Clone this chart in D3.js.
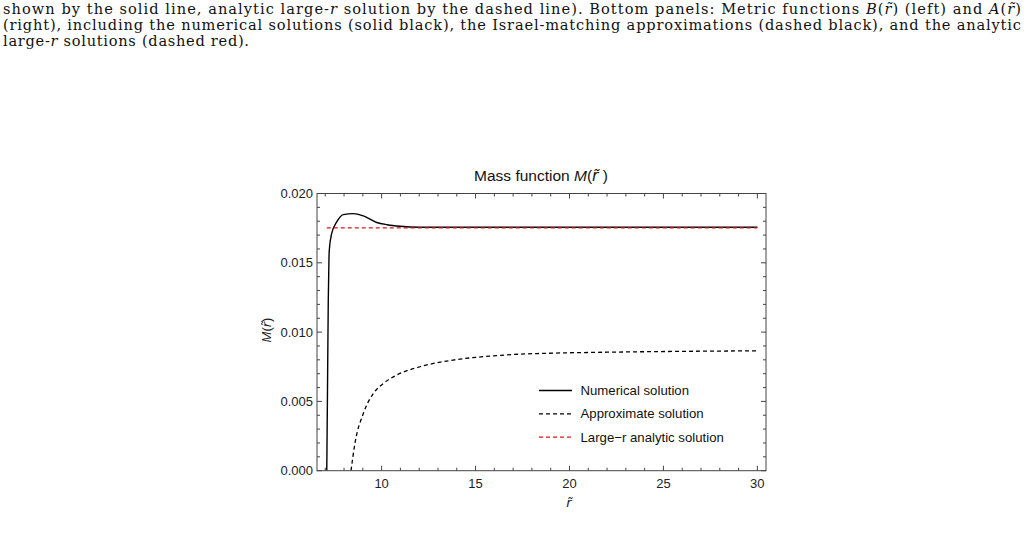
<!DOCTYPE html>
<html>
<head>
<meta charset="utf-8">
<script src="https://cdn.jsdelivr.net/npm/d3@7"></script>
<style>
  body { margin: 0; background: #fff; }
  svg { display: block; }
</style>
</head>
<body>
<svg id="chart" width="1027" height="539"></svg>
<script>
// data
var numR = [7.08, 7.12, 7.16, 7.20, 7.22, 7.34, 7.61, 7.96, 8.49, 9.03, 9.74, 10.3, 10.98, 12, 15, 30];
var numM = [0, 0.006, 0.0123, 0.0155, 0.0160, 0.0171, 0.01795, 0.01848, 0.01855, 0.01838, 0.01791, 0.01775, 0.01764, 0.01757, 0.01756, 0.01756];

var apxR = [8.37, 8.58, 9.03, 9.56, 10.1, 10.8, 12.04, 13.8, 15.8, 17.4, 18.5, 22, 26, 30];
var apxM = [0, 0.001975, 0.00414, 0.00558, 0.0063, 0.0069, 0.0075, 0.00798, 0.00827, 0.00841, 0.00846, 0.00855, 0.00861, 0.00865];

var bigR = [7.08, 30];
var bigM = [0.01752, 0.01752];

var xTicks = [10, 15, 20, 25, 30];
var yTicks = [0, 0.005, 0.010, 0.015, 0.020];
var legendLabels = ['Numerical solution', 'Approximate solution', 'Large\u2212r analytic solution'];

var svg = d3.select('#chart');
var LEFT = 317, RIGHT = 766, TOP = 193.5, BOTTOM = 470.7;
var TILDE_FONT = "'DejaVu Sans', sans-serif";

// caption text above the figure
var cap = svg.append('g')
  .attr('font-family', "'DejaVu Serif', serif")
  .attr('font-size', '14.6px')
  .attr('fill', '#111');

var l1 = cap.append('text').attr('x', 3).attr('y', 14)
  .attr('textLength', 1018).attr('lengthAdjust', 'spacing');
l1.append('tspan').text('shown by the solid line, analytic large-');
l1.append('tspan').attr('font-style', 'italic').text('r');
l1.append('tspan').text(' solution by the dashed line). Bottom panels: Metric functions ');
l1.append('tspan').attr('font-style', 'italic').text('B');
l1.append('tspan').text('(');
l1.append('tspan').attr('font-style', 'italic').text('r\u0303');
l1.append('tspan').text(') (left) and ');
l1.append('tspan').attr('font-style', 'italic').text('A');
l1.append('tspan').text('(');
l1.append('tspan').attr('font-style', 'italic').text('r\u0303');
l1.append('tspan').text(')');

cap.append('text').attr('x', 3).attr('y', 30)
  .attr('textLength', 1018).attr('lengthAdjust', 'spacing')
  .text('(right), including the numerical solutions (solid black), the Israel-matching approximations (dashed black), and the analytic');

var l3 = cap.append('text').attr('x', 3).attr('y', 46)
  .attr('textLength', 246).attr('lengthAdjust', 'spacing');
l3.append('tspan').text('large-');
l3.append('tspan').attr('font-style', 'italic').text('r');
l3.append('tspan').text(' solutions (dashed red).');

// scales
var x = d3.scaleLinear().domain([6.56, 30.46]).range([LEFT, RIGHT]);
var y = d3.scaleLinear().domain([0, 0.020]).range([BOTTOM, TOP]);

var fontFam = "'Liberation Sans', Arial, sans-serif";
var g = svg.append('g').attr('font-family', fontFam);

// clip for the curves
svg.append('clipPath').attr('id', 'clip')
  .append('rect').attr('x', LEFT).attr('y', TOP).attr('width', RIGHT - LEFT).attr('height', BOTTOM - TOP);

var line = d3.line()
  .x(function(d) { return x(d[0]); })
  .y(function(d) { return y(d[1]); })
  .curve(d3.curveMonotoneX);

var curves = g.append('g').attr('clip-path', 'url(#clip)');

curves.append('path')
  .datum(d3.zip(apxR, apxM))
  .attr('d', line)
  .attr('fill', 'none')
  .attr('stroke', '#000')
  .attr('stroke-width', 1.3)
  .attr('stroke-dasharray', '4,3');

curves.append('path')
  .datum(d3.zip(numR, numM))
  .attr('d', line)
  .attr('fill', 'none')
  .attr('stroke', '#000')
  .attr('stroke-width', 1.4);

curves.append('path')
  .datum(d3.zip(bigR, bigM))
  .attr('d', line)
  .attr('fill', 'none')
  .attr('stroke', '#e0161b')
  .attr('stroke-width', 1.2)
  .attr('stroke-dasharray', '4,3');

// frame
g.append('rect')
  .attr('x', LEFT).attr('y', TOP)
  .attr('width', RIGHT - LEFT).attr('height', BOTTOM - TOP)
  .attr('fill', 'none').attr('stroke', '#444').attr('stroke-width', 1);

// ticks (inward, on all four sides)
var xMinor = d3.range(7, 31, 1).filter(function(v) { return xTicks.indexOf(v) < 0; });
var yMinor = d3.range(0, 21, 1).filter(function(v) { return v % 5 != 0; })
  .map(function(v) { return v / 1000; });

var tk = g.append('g').attr('stroke', '#444').attr('stroke-width', 1);
function vTicks(vals, len) {
  vals.forEach(function(v) {
    tk.append('line').attr('x1', x(v)).attr('x2', x(v)).attr('y1', BOTTOM).attr('y2', BOTTOM - len);
    tk.append('line').attr('x1', x(v)).attr('x2', x(v)).attr('y1', TOP).attr('y2', TOP + len);
  });
}
function hTicks(vals, len) {
  vals.forEach(function(v) {
    tk.append('line').attr('y1', y(v)).attr('y2', y(v)).attr('x1', LEFT).attr('x2', LEFT + len);
    tk.append('line').attr('y1', y(v)).attr('y2', y(v)).attr('x1', RIGHT).attr('x2', RIGHT - len);
  });
}
vTicks(xTicks, 5);
vTicks(xMinor, 3);
hTicks(yTicks, 5);
hTicks(yMinor, 3);

// tick labels
g.selectAll('.xlab').data(xTicks).enter().append('text')
  .attr('class', 'xlab')
  .attr('x', function(d) { return x(d); })
  .attr('y', BOTTOM + 17)
  .attr('text-anchor', 'middle')
  .attr('font-size', '13px')
  .attr('fill', '#222')
  .text(function(d) { return d; });

g.selectAll('.ylab').data(yTicks).enter().append('text')
  .attr('class', 'ylab')
  .attr('x', LEFT - 4)
  .attr('y', function(d) { return y(d) + 4.5; })
  .attr('text-anchor', 'end')
  .attr('font-size', '13px')
  .attr('fill', '#222')
  .text(function(d) { return d3.format('.3f')(d); });

// title
var title = g.append('text')
  .attr('x', 541).attr('y', 181)
  .attr('text-anchor', 'middle')
  .attr('font-size', '15.5px')
  .attr('fill', '#111');
title.append('tspan').text('Mass function ');
title.append('tspan').attr('font-style', 'italic').text('M');
title.append('tspan').text('(');
title.append('tspan').attr('font-style', 'italic').attr('font-family', TILDE_FONT).text('r\u0303');
title.append('tspan').text(' )');

// axis labels
var yl = g.append('text')
  .attr('transform', 'translate(271,330) rotate(-90)')
  .attr('text-anchor', 'middle')
  .attr('font-size', '13px')
  .attr('fill', '#222');
yl.append('tspan').attr('font-style', 'italic').text('M');
yl.append('tspan').text('(');
yl.append('tspan').attr('font-style', 'italic').attr('font-family', TILDE_FONT).text('r\u0303');
yl.append('tspan').text(')');

g.append('text')
  .attr('x', 569).attr('y', 507)
  .attr('text-anchor', 'middle')
  .attr('font-size', '13px')
  .attr('font-style', 'italic')
  .attr('font-family', TILDE_FONT)
  .attr('fill', '#222')
  .text('r\u0303');

// legend
var legendStyles = [
  { stroke: '#000', dash: null },
  { stroke: '#000', dash: '4,3' },
  { stroke: '#e0161b', dash: '4,3' }
];
var lg = g.append('g');
legendLabels.forEach(function(lab, i) {
  var yy = 390.5 + i * 23.3;
  lg.append('line')
    .attr('x1', 539).attr('x2', 572)
    .attr('y1', yy).attr('y2', yy)
    .attr('stroke', legendStyles[i].stroke)
    .attr('stroke-width', 1.3)
    .attr('stroke-dasharray', legendStyles[i].dash);
  lg.append('text')
    .attr('x', 580.5).attr('y', yy + 4.5)
    .attr('font-size', '13.2px')
    .attr('fill', '#111')
    .text(lab);
});
</script>
</body>
</html>
